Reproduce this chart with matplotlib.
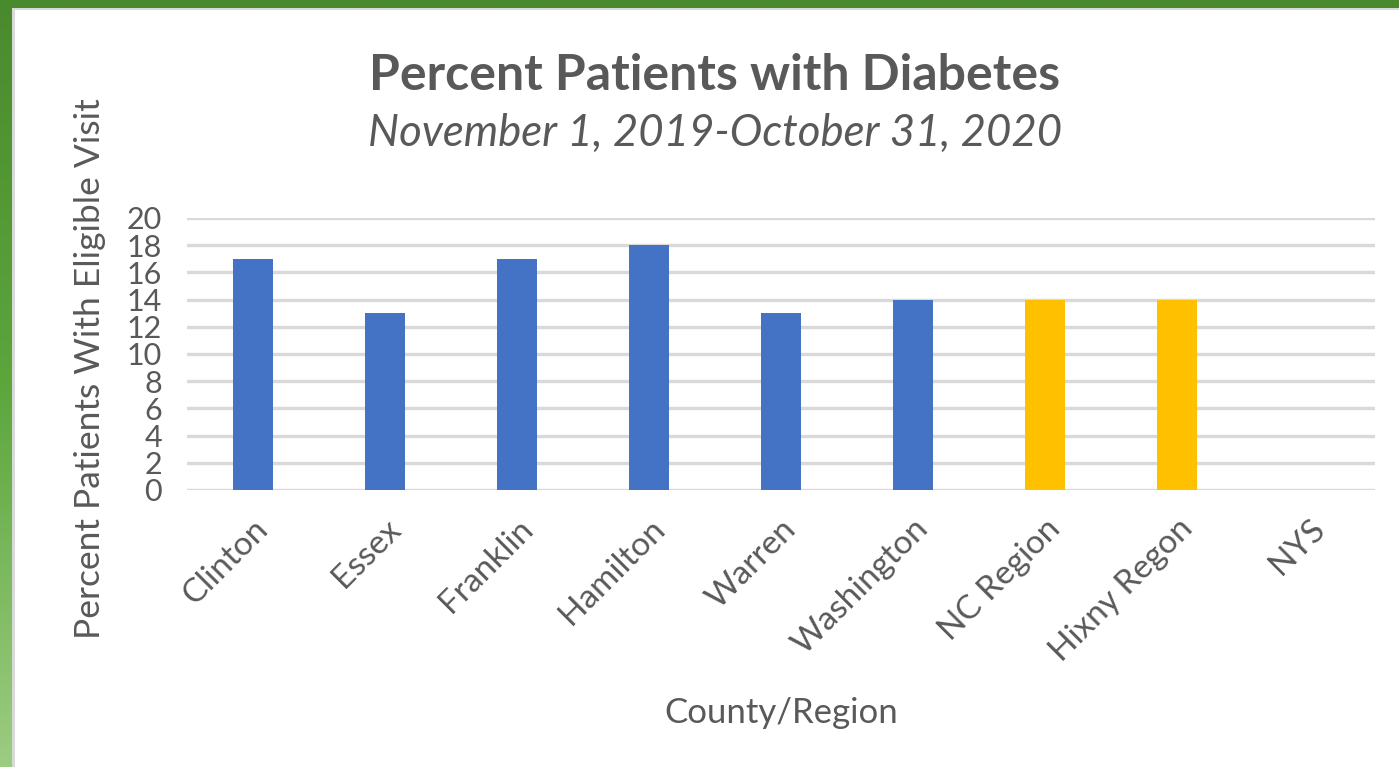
import matplotlib.pyplot as plt
import numpy as np
from matplotlib.patches import Rectangle
from matplotlib.colors import LinearSegmentedColormap

categories = ['Clinton', 'Essex', 'Franklin', 'Hamilton', 'Warren',
              'Washington', 'NC Region', 'Hixny Regon', 'NYS']
values = [17, 13, 17, 18, 13, 14, 14, 14, 0]
bar_colors = ['#4472C4'] * 6 + ['#FFC000'] * 2 + ['#4472C4']
yticks = list(range(0, 21, 2))

plt.rcParams['font.family'] = ['Lato', 'DejaVu Sans']
text_color = '#595959'

W, H = 1399, 767
fig = plt.figure(figsize=(W / 100, H / 100), dpi=100)

# green frame with vertical gradient, white card on top
bg = fig.add_axes([0, 0, 1, 1], zorder=0)
bg.axis('off')
grad = np.linspace(0, 1, 256).reshape(-1, 1)
green = LinearSegmentedColormap.from_list('g', ['#4a8a2e', '#5ca63c', '#9ccc82'])
bg.imshow(grad, aspect='auto', cmap=green, extent=[0, W, H, 0])
bg.add_patch(Rectangle((12, 8), W, H, facecolor='#d9d9d9', edgecolor='none'))
bg.add_patch(Rectangle((15, 10), W, H, facecolor='white', edgecolor='none'))
bg.set_xlim(0, W)
bg.set_ylim(H, 0)

ax = fig.add_axes([187 / W, 1 - 490 / H, (1375 - 187) / W, (490 - 218) / H], zorder=1)
ax.patch.set_alpha(0)
x = np.arange(len(categories))
ax.bar(x, values, width=0.3, color=bar_colors, zorder=3)
ax.set_xlim(-0.5, len(categories) - 0.5)
ax.set_ylim(0, 20)
ax.set_yticks(yticks)
ax.yaxis.grid(True, color='#d9d9d9', linewidth=2.4, zorder=0)
ax.set_axisbelow(True)
for s in ax.spines.values():
    s.set_visible(False)
ax.tick_params(axis='both', length=0, labelcolor=text_color)
ax.tick_params(axis='y', pad=18, labelsize=22)
ax.set_xticks(x)
ax.set_xticklabels(categories, rotation=45, ha='right', rotation_mode='anchor')
ax.tick_params(axis='x', pad=17, labelsize=24)

ax.set_ylabel('Percent Patients With Eligible Visit', fontsize=25.5, color=text_color, labelpad=15)
ax.yaxis.label.set_y(0.445)
ax.set_xlabel('County/Region', fontsize=25, color=text_color, labelpad=21)

fig.text(0.511, 1 - 75 / H, 'Percent Patients with Diabetes', ha='center', va='center',
         fontsize=36, fontweight='bold', color=text_color)
fig.text(0.511, 1 - 133 / H, 'November 1, 2019-October 31, 2020', ha='center', va='center',
         fontsize=31.5, style='italic', color=text_color)

fig.savefig('out.png', dpi=100)
